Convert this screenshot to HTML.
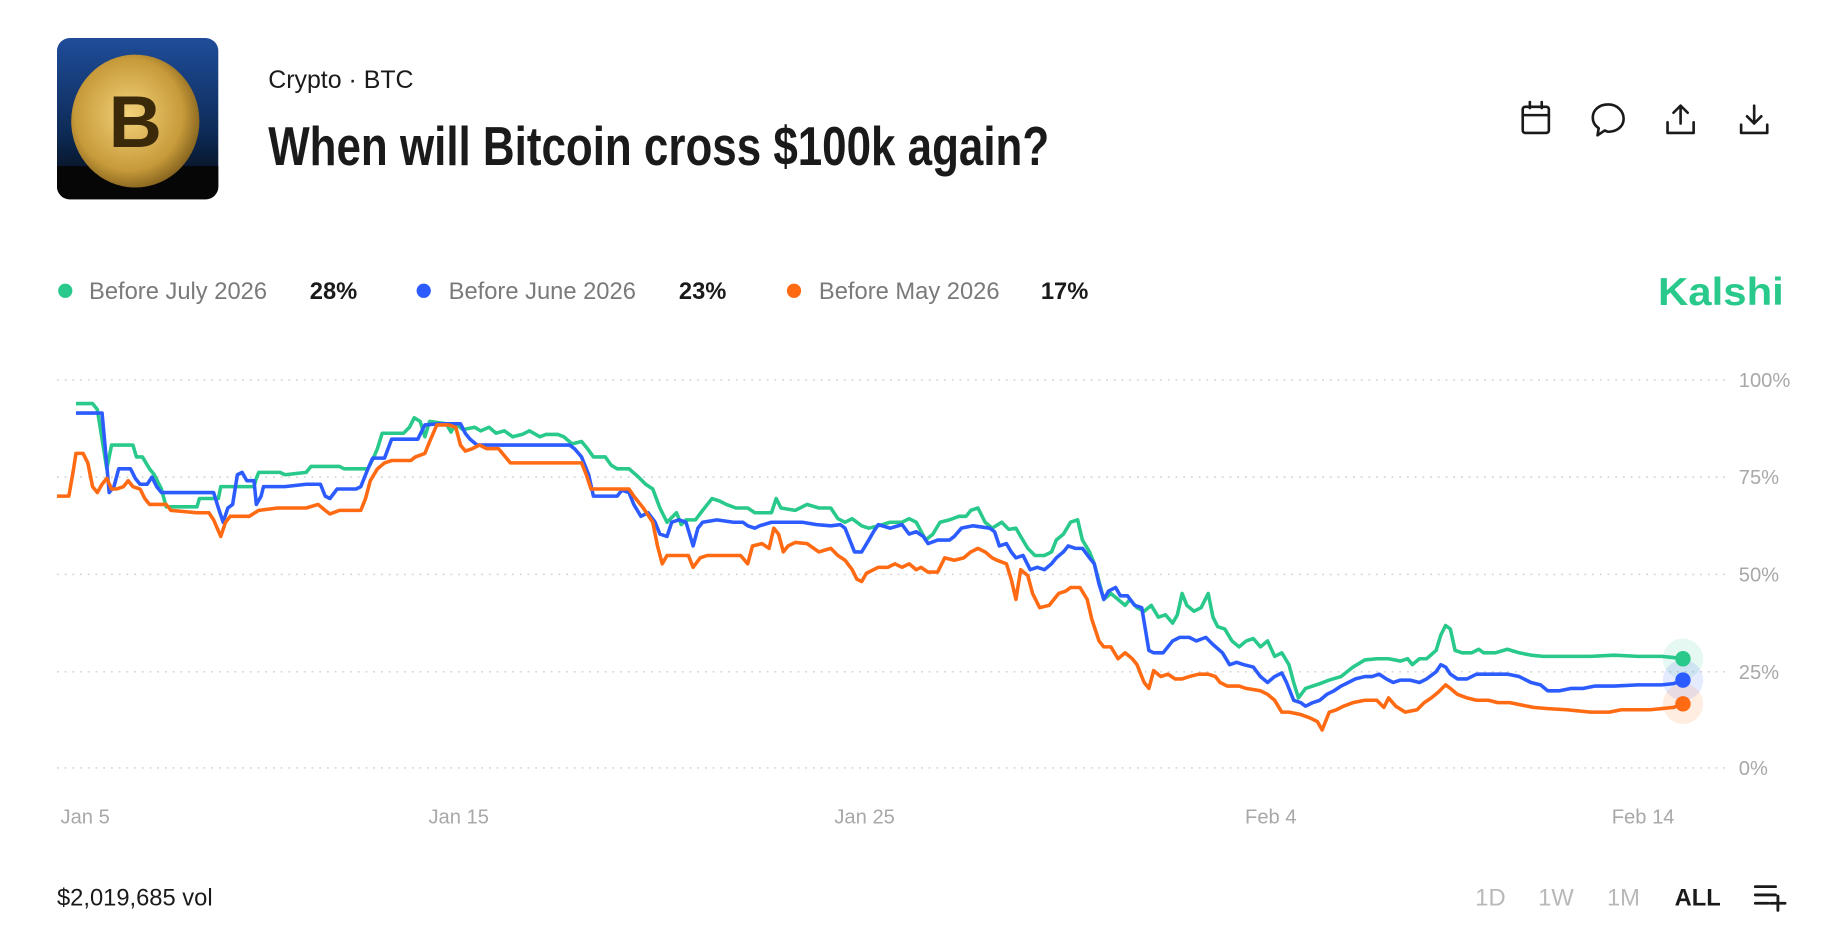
<!DOCTYPE html>
<html><head><meta charset="utf-8"><style>
html,body{margin:0;padding:0;background:#fff;width:1842px;height:936px;overflow:hidden}
svg{display:block}
text{font-family:"Liberation Sans",sans-serif}
</style></head><body>
<svg width="1842" height="936" viewBox="0 0 1552 788.6" preserveAspectRatio="none" xmlns="http://www.w3.org/2000/svg">
<defs>
<linearGradient id="bg" x1="0" y1="0" x2="0" y2="1"><stop offset="0" stop-color="#1f4d9a"/><stop offset="0.6" stop-color="#0d2a55"/><stop offset="1" stop-color="#050505"/></linearGradient>
<radialGradient id="coin" cx="0.45" cy="0.45" r="0.6"><stop offset="0" stop-color="#f3d27a"/><stop offset="0.7" stop-color="#c79a3a"/><stop offset="1" stop-color="#7a5a1a"/></radialGradient>
<clipPath id="th"><rect x="48" y="32" width="136" height="136" rx="11"/></clipPath>
</defs>
<g clip-path="url(#th)">
<rect x="48" y="32" width="136" height="136" fill="url(#bg)"/>
<rect x="48" y="140" width="136" height="28" fill="#060606"/>
<ellipse cx="114" cy="102" rx="54" ry="56" fill="url(#coin)"/>
<text x="114" y="124" font-size="62" font-weight="bold" fill="#3a2a0a" text-anchor="middle">B</text>
</g>
<text x="226" y="74" font-size="21" fill="#1a1a1a">Crypto  ·  BTC</text>
<text x="226" y="139" font-size="46" font-weight="bold" fill="#1a1a1a" textLength="658" lengthAdjust="spacingAndGlyphs" style="font-family:'Liberation Sans Narrow','Liberation Sans',sans-serif">When will Bitcoin cross $100k again?</text>
<g fill="none" stroke="#1a1a1a" stroke-width="2.2" stroke-linecap="round" stroke-linejoin="round">
<rect x="1283" y="90" width="22" height="22" rx="2"/><line x1="1283" y1="97" x2="1305" y2="97"/><line x1="1289" y1="86" x2="1289" y2="91"/><line x1="1299" y1="86" x2="1299" y2="91"/>
<path d="M1355 88c-8 0-13 5-13 11 0 4 2 7 5 9l-1 6 6-4c1 0 2 1 3 1 8 0 13-5 13-11s-5-12-13-12z"/>
<path d="M1416 104V89M1410 95l6-6 6 6M1405 103v9h22v-9"/>
<path d="M1478 89v15M1472 98l6 6 6-6M1467 105v7h22v-7"/>
</g>
<g font-size="20">
<circle cx="55" cy="245" r="6" fill="#28c98b"/><text x="75" y="252" fill="#7a7a7a">Before July 2026</text><text x="261" y="252" fill="#1a1a1a" font-weight="bold">28%</text>
<circle cx="357" cy="245" r="6" fill="#2c5cff"/><text x="378" y="252" fill="#7a7a7a">Before June 2026</text><text x="572" y="252" fill="#1a1a1a" font-weight="bold">23%</text>
<circle cx="669" cy="245" r="6" fill="#ff6a13"/><text x="690" y="252" fill="#7a7a7a">Before May 2026</text><text x="877" y="252" fill="#1a1a1a" font-weight="bold">17%</text>
</g>
<text x="1397" y="257" font-size="33" font-weight="bold" fill="#28c98b" textLength="106" lengthAdjust="spacingAndGlyphs">Kalshi</text>
<g stroke="#cfcfcf" stroke-width="1.2" stroke-dasharray="1.5 5">
<line x1="48" y1="320" x2="1455" y2="320"/><line x1="48" y1="402" x2="1455" y2="402"/><line x1="48" y1="484" x2="1455" y2="484"/><line x1="48" y1="566" x2="1455" y2="566"/><line x1="48" y1="647" x2="1455" y2="647"/>
</g>
<g font-size="17" fill="#a8a8a8">
<text x="1465" y="326">100%</text><text x="1465" y="408">75%</text><text x="1465" y="490">50%</text><text x="1465" y="572">25%</text><text x="1465" y="653">0%</text>
<text x="51" y="694">Jan 5</text><text x="361" y="694">Jan 15</text><text x="703" y="694">Jan 25</text><text x="1049" y="694">Feb 4</text><text x="1358" y="694">Feb 14</text>
</g>
<g fill="none" stroke-width="3" stroke-linejoin="round">
<polyline stroke="#28c98b" points="64,340 78,340 82,345 86,370 90,395 94,375 112,375 115,385 120,385 126,395 130,400 136,412 140,427 166,427 168,420 184,420 186,410 214,410 216,403 218,398 236,398 240,400 258,398 262,393 286,393 290,395 310,395 315,385 318,378 322,365 340,365 345,360 349,352 354,355 358,368 362,355 376,357 380,364 384,357 390,362 400,360 405,363 412,360 418,365 425,363 432,368 440,366 446,363 455,368 460,366 470,366 475,368 482,374 490,372 495,378 500,385 510,385 515,392 520,395 530,395 538,402 544,408 550,412 556,428 562,440 566,436 570,432 574,442 578,438 586,438 592,430 596,425 600,420 606,422 612,425 620,428 630,428 636,432 650,432 654,420 658,428 670,430 680,425 690,428 700,428 706,437 712,440 718,437 726,443 732,445 740,443 750,440 760,440 766,437 772,440 780,455 786,450 792,440 800,438 808,435 814,435 818,430 824,428 830,440 836,445 844,440 850,446 856,445 860,452 866,462 872,468 880,468 886,465 890,455 896,450 902,440 908,438 912,455 918,465 922,475 926,490 930,505 936,500 942,505 948,510 952,505 958,512 964,515 970,510 976,520 982,518 988,525 992,518 996,500 1000,510 1006,515 1012,512 1018,500 1022,520 1026,528 1032,530 1038,540 1044,545 1050,540 1056,538 1062,545 1068,540 1074,553 1080,550 1086,560 1090,575 1094,588 1100,580 1106,578 1112,576 1120,573 1130,570 1140,562 1150,556 1160,555 1170,555 1180,557 1186,555 1190,560 1196,555 1202,555 1210,548 1214,535 1218,527 1222,530 1226,548 1232,550 1240,550 1246,547 1250,550 1260,550 1270,547 1280,550 1290,552 1300,553 1320,553 1340,553 1360,552 1380,553 1400,553 1410,554 1418,555"/>
<polyline stroke="#2c5cff" points="64,348 86,348 88,370 92,415 96,410 100,395 110,395 114,403 118,408 124,408 128,402 132,410 136,415 180,415 184,428 188,440 192,428 196,425 200,400 204,398 208,405 214,405 216,425 220,418 222,410 240,410 258,408 270,408 274,418 278,420 284,412 300,412 304,410 310,395 314,386 324,386 330,370 352,370 358,358 370,357 388,357 392,365 396,370 402,375 414,375 480,375 484,378 490,385 496,400 500,418 520,418 524,413 530,415 534,425 540,435 546,432 552,440 556,450 562,452 566,440 572,438 578,440 584,460 588,445 592,440 604,438 618,440 626,440 630,443 636,445 640,443 650,440 664,440 676,440 688,442 700,443 708,442 712,445 716,455 720,465 726,465 732,455 736,448 740,442 750,445 760,442 766,450 772,448 778,452 782,458 790,455 800,455 804,452 810,445 820,443 834,445 838,448 842,460 848,458 852,465 856,470 862,468 868,480 874,478 880,480 886,475 890,470 896,465 900,460 906,462 912,462 918,470 922,475 926,492 930,505 934,498 940,495 944,502 950,502 956,510 962,512 968,548 972,550 980,550 988,540 994,537 1002,537 1008,540 1016,537 1022,543 1030,550 1036,560 1042,558 1048,560 1056,562 1062,570 1068,575 1074,570 1080,567 1084,575 1090,590 1096,592 1100,595 1106,592 1112,590 1118,585 1124,582 1130,578 1136,575 1142,572 1150,570 1156,570 1162,568 1168,572 1174,575 1180,573 1188,573 1196,575 1202,572 1210,566 1214,560 1218,562 1222,568 1228,572 1236,572 1244,568 1270,568 1280,570 1290,575 1298,577 1304,582 1314,582 1324,580 1334,580 1344,578 1360,578 1380,577 1400,577 1410,576 1418,573"/>
<polyline stroke="#ff6a13" points="48,418 58,418 62,395 64,382 70,382 74,390 78,410 82,415 86,408 90,403 94,412 98,412 104,410 108,405 112,410 118,412 122,420 126,425 140,425 144,430 166,432 176,432 180,438 186,452 190,440 194,435 210,435 218,430 234,428 258,428 268,425 274,430 278,433 286,430 304,430 308,420 312,405 318,395 324,390 330,388 346,388 350,385 358,382 362,372 368,358 378,358 384,360 388,375 392,380 398,378 404,375 410,378 420,378 430,390 490,390 494,400 498,412 530,412 534,418 542,428 550,440 554,460 558,475 562,468 580,468 584,478 590,470 596,468 624,468 630,475 634,460 642,458 648,462 652,445 656,450 660,465 664,460 670,457 680,458 690,465 700,462 706,468 712,472 718,480 722,488 726,490 730,483 740,478 748,478 754,475 760,478 766,475 772,480 776,478 782,482 790,482 796,470 804,472 812,470 818,465 824,462 830,465 836,470 840,472 848,475 852,488 856,505 860,480 866,485 870,500 876,512 884,510 888,505 892,500 898,498 902,495 910,495 916,505 920,522 926,540 930,545 936,545 942,555 948,550 954,555 958,560 964,575 968,580 972,565 978,570 984,568 990,572 996,572 1002,570 1010,568 1018,568 1024,570 1028,575 1034,578 1044,578 1050,580 1062,582 1068,585 1074,590 1080,600 1086,600 1096,602 1104,605 1110,608 1114,615 1120,600 1126,598 1132,595 1140,592 1150,590 1160,590 1166,596 1170,588 1176,595 1184,600 1194,598 1200,592 1206,588 1212,583 1218,577 1222,580 1228,585 1236,588 1244,590 1254,590 1262,592 1272,592 1282,594 1292,596 1304,597 1320,598 1340,600 1356,600 1366,598 1376,598 1390,598 1400,597 1410,596 1418,593"/>
</g>
<circle cx="1418" cy="555" r="17" fill="#28c98b" opacity="0.12"/>
<circle cx="1418" cy="573" r="17" fill="#2c5cff" opacity="0.12"/>
<circle cx="1418" cy="593" r="17" fill="#ff6a13" opacity="0.12"/>
<circle cx="1418" cy="555" r="6.5" fill="#28c98b"/>
<circle cx="1418" cy="573" r="6.5" fill="#2c5cff"/>
<circle cx="1418" cy="593" r="6.5" fill="#ff6a13"/>
<text x="48" y="763" font-size="20" fill="#1a1a1a">$2,019,685 vol</text>
<g font-size="20">
<text x="1243" y="763" fill="#b8b8b8">1D</text><text x="1296" y="763" fill="#b8b8b8">1W</text><text x="1354" y="763" fill="#b8b8b8">1M</text><text x="1411" y="763" fill="#1a1a1a" font-weight="bold">ALL</text>
</g>
<g stroke="#1a1a1a" stroke-width="2.4" stroke-linecap="round">
<line x1="1479" y1="747" x2="1496" y2="747"/><line x1="1479" y1="754" x2="1496" y2="754"/><line x1="1479" y1="761" x2="1490" y2="761"/><line x1="1498" y1="755" x2="1498" y2="767"/><line x1="1492" y1="761" x2="1504" y2="761"/>
</g>
</svg>
</body></html>
